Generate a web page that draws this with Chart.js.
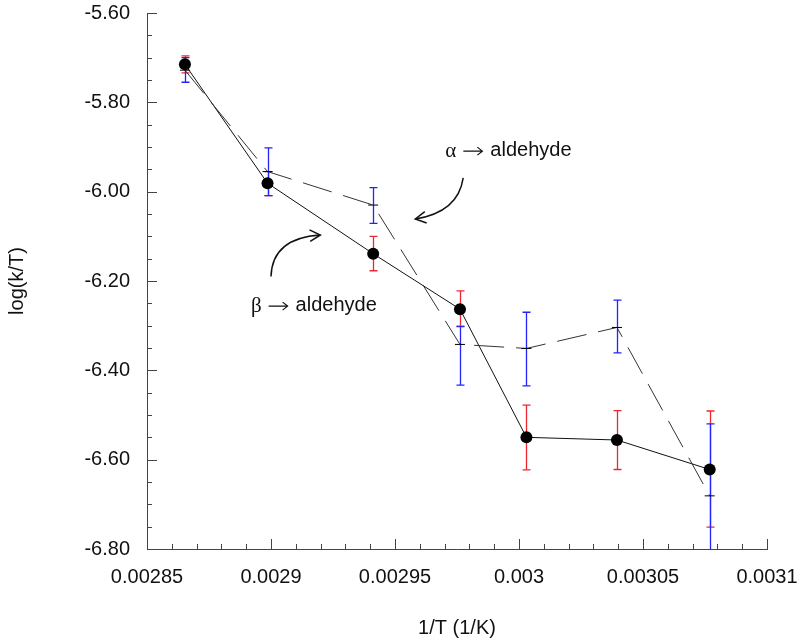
<!DOCTYPE html>
<html>
<head>
<meta charset="utf-8">
<script src="https://cdn.jsdelivr.net/npm/chart.js@4.4.1/dist/chart.umd.min.js"></script>
<style>
  body { margin: 0; background: #fff; }
  #wrap { width: 800px; height: 644px; position: relative; }
</style>
</head>
<body>
<div id="wrap"><canvas id="chart1"></canvas></div>
<script>
// 1/T values (1/K)
const xValues = [0.0028653, 0.0028986, 0.0029412, 0.0029762, 0.0030030, 0.0030395, 0.0030769];

// beta -> aldehyde (black dots, solid line, red error bars)
const betaValues = [-5.715, -5.981, -6.139, -6.263, -6.550, -6.556, -6.622];
const betaHigh = [-5.696, -5.955, -6.100, -6.222, -6.478, -6.490, -6.491];
const betaLow = [-5.734, -6.009, -6.177, -6.301, -6.623, -6.622, -6.751];

// alpha -> aldehyde (crosses, dashed line, blue error bars)
const alphaValues = [-5.728, -5.955, -6.030, -6.342, -6.351, -6.304, -6.681];
const alphaHigh = [-5.700, -5.902, -5.991, -6.302, -6.270, -6.243, -6.520];
const alphaLow = [-5.755, -6.009, -6.071, -6.433, -6.435, -6.361, -6.840];

const xTickValues = [0.00285, 0.0029, 0.00295, 0.003, 0.00305, 0.0031];
const xTickLabels = ['0.00285', '0.0029', '0.00295', '0.003', '0.00305', '0.0031'];
const yTickValues = [-6.8, -6.6, -6.4, -6.2, -6.0, -5.8, -5.6];
const yTickLabels = ['-6.80', '-6.60', '-6.40', '-6.20', '-6.00', '-5.80', '-5.60'];

// annotation text + curved arrows, in data units
const notes = [
    { greek: 'α', name: 'aldehyde', x: 0.0029703, y: -5.907,
      arrow: [[0.0029775, -5.969], [0.0029755, -6.0455], [0.0029582, -6.0612]] },
    { greek: 'β', name: 'aldehyde', x: 0.0028919, y: -6.254,
      arrow: [[0.00290, -6.190], [0.0029005, -6.1037], [0.0029199, -6.097]] }
];

const FONT = "Arial, 'Liberation Sans', sans-serif";
const RED = 'rgb(235, 40, 48)';
const BLUE = 'rgb(35, 35, 255)';

const errorBars = {
    id: 'errorBars',
    beforeDatasetsDraw(chart) {
        const {ctx, chartArea, scales: {x, y}} = chart;
        ctx.save();
        ctx.beginPath();
        ctx.rect(chartArea.left, chartArea.top, chartArea.right - chartArea.left, chartArea.bottom - chartArea.top);
        ctx.clip();
        ctx.lineWidth = 1.3;
        const drawSet = (lows, highs, color) => {
            ctx.strokeStyle = color;
            xValues.forEach((xv, i) => {
                const px = Math.round(x.getPixelForValue(xv)) + 0.5;
                const top = y.getPixelForValue(highs[i]);
                const bot = y.getPixelForValue(lows[i]);
                ctx.beginPath();
                ctx.moveTo(px, top); ctx.lineTo(px, bot);
                ctx.moveTo(px - 4, top); ctx.lineTo(px + 4, top);
                ctx.moveTo(px - 4, bot); ctx.lineTo(px + 4, bot);
                ctx.stroke();
            });
        };
        drawSet(betaLow, betaHigh, RED);
        drawSet(alphaLow, alphaHigh, BLUE);
        ctx.restore();
    }
};

const axisTicks = {
    id: 'axisTicks',
    afterDraw(chart) {
        const {ctx, chartArea, scales: {x, y}} = chart;
        ctx.save();
        ctx.strokeStyle = '#444';
        ctx.lineWidth = 1;
        ctx.beginPath();
        for (let i = 0; i <= 25; i++) {
            const px = Math.round(x.getPixelForValue(0.00285 + i * 0.00001)) + 0.5;
            const len = i % 5 === 0 ? 10 : 5;
            ctx.moveTo(px, chartArea.bottom);
            ctx.lineTo(px, chartArea.bottom - len);
        }
        for (let i = 0; i <= 24; i++) {
            const py = Math.round(y.getPixelForValue(-6.8 + i * 0.05)) + 0.5;
            const len = i % 4 === 0 ? 10 : 5;
            ctx.moveTo(chartArea.left, py);
            ctx.lineTo(chartArea.left + len, py);
        }
        ctx.stroke();

        // annotations: greek letter, long arrow, word
        ctx.fillStyle = '#111';
        ctx.strokeStyle = '#111';
        ctx.textBaseline = 'middle';
        ctx.textAlign = 'left';
        notes.forEach(n => {
            let tx = x.getPixelForValue(n.x);
            const ty = y.getPixelForValue(n.y);
            ctx.font = "21px 'Liberation Serif', 'DejaVu Serif', serif";
            ctx.fillText(n.greek, tx, ty + 1);
            tx += ctx.measureText(n.greek).width + 7;
            ctx.lineWidth = 1.2;
            ctx.beginPath();
            ctx.moveTo(tx, ty + 1); ctx.lineTo(tx + 19, ty + 1);
            ctx.moveTo(tx + 14, ty - 3); ctx.lineTo(tx + 19, ty + 1); ctx.lineTo(tx + 14, ty + 5);
            ctx.stroke();
            tx += 27;
            ctx.font = '20px ' + FONT;
            ctx.fillText(n.name, tx, ty);

            const p = n.arrow.map(a => [x.getPixelForValue(a[0]), y.getPixelForValue(a[1])]);
            ctx.lineWidth = 1.5;
            ctx.beginPath();
            ctx.moveTo(p[0][0], p[0][1]);
            ctx.quadraticCurveTo(p[1][0], p[1][1], p[2][0], p[2][1]);
            ctx.stroke();
            const ang = Math.atan2(p[2][1] - p[1][1], p[2][0] - p[1][0]);
            ctx.beginPath();
            ctx.moveTo(p[2][0] - 12 * Math.cos(ang - 0.5), p[2][1] - 12 * Math.sin(ang - 0.5));
            ctx.lineTo(p[2][0], p[2][1]);
            ctx.lineTo(p[2][0] - 12 * Math.cos(ang + 0.5), p[2][1] - 12 * Math.sin(ang + 0.5));
            ctx.stroke();
        });
        ctx.restore();
    }
};

const ctx = document.getElementById('chart1').getContext('2d');
const chart1 = new Chart(ctx, {
    type: 'scatter',
    data: {
        datasets: [{
            label: 'alpha -> aldehyde',
            data: xValues.map((v, i) => ({x: v, y: alphaValues[i]})),
            showLine: true,
            borderColor: '#333',
            borderWidth: 1,
            borderDash: [30, 12],
            pointStyle: 'line',
            pointRadius: 5,
            pointBorderColor: '#000',
            pointBorderWidth: 1
        }, {
            label: 'beta -> aldehyde',
            data: xValues.map((v, i) => ({x: v, y: betaValues[i]})),
            showLine: true,
            borderColor: '#111',
            borderWidth: 1,
            pointStyle: 'circle',
            pointRadius: 6,
            pointBackgroundColor: '#000',
            pointBorderColor: '#000',
            pointBorderWidth: 0
        }]
    },
    options: {
        responsive: true,
        maintainAspectRatio: false,
        animation: false,
        layout: { padding: { top: 13, right: 33, left: 0, bottom: 0 } },
        plugins: {
            legend: { display: false },
            tooltip: { enabled: false }
        },
        scales: {
            x: {
                type: 'linear',
                min: 0.00285,
                max: 0.0031,
                afterBuildTicks: scale => { scale.ticks = xTickValues.map(v => ({value: v})); },
                afterFit: scale => {
                    scale.height = 95;
                    scale.paddingLeft = 0;
                    scale.paddingRight = 0;
                },
                ticks: {
                    callback: (v, i) => xTickLabels[i],
                    font: { size: 20, family: FONT },
                    color: '#111',
                    padding: 16,
                    maxRotation: 0
                },
                grid: { drawOnChartArea: false, drawTicks: false },
                border: { color: '#444' },
                title: {
                    display: true,
                    text: '1/T (1/K)',
                    font: { size: 20, family: FONT },
                    color: '#111',
                    padding: { top: 4, bottom: 4 }
                }
            },
            y: {
                min: -6.8,
                max: -5.6,
                afterBuildTicks: scale => { scale.ticks = yTickValues.map(v => ({value: v})); },
                afterFit: scale => {
                    scale.width = 147;
                    scale.paddingTop = 0;
                    scale.paddingBottom = 0;
                },
                ticks: {
                    callback: (v, i) => yTickLabels[i],
                    font: { size: 20, family: FONT },
                    color: '#111',
                    padding: 17
                },
                grid: { drawOnChartArea: false, drawTicks: false },
                border: { color: '#444' },
                title: {
                    display: true,
                    text: 'log(k/T)',
                    font: { size: 20, family: FONT },
                    color: '#111',
                    padding: { top: 5, bottom: 4 }
                }
            }
        }
    },
    plugins: [errorBars, axisTicks]
});
</script>
</body>
</html>
